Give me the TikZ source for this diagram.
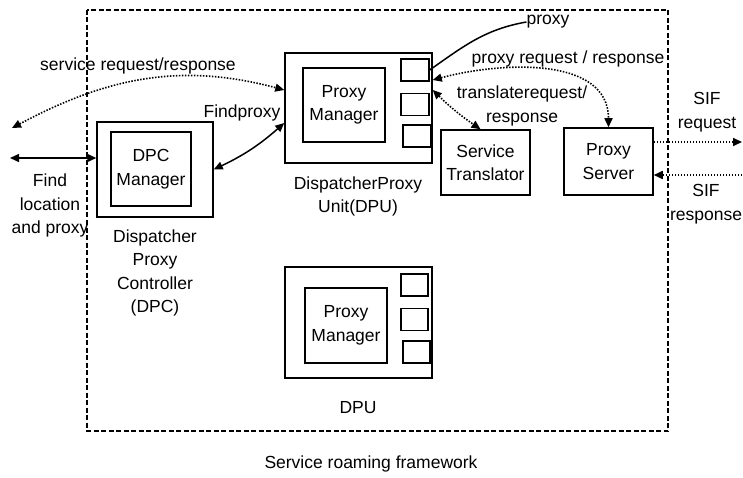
\documentclass[tikz,border=0pt]{standalone}
\usepackage{fontspec}
\setmainfont{Liberation Sans}
\usetikzlibrary{arrows.meta,positioning}

\begin{document}
\begin{tikzpicture}[x=1pt,y=-1pt,
  font=\fontsize{17.5}{23.5}\selectfont,
  outer/.style={draw,line width=1.5pt,inner sep=0pt},
  inner/.style={draw,line width=1.4pt,inner sep=0pt,align=center},
  slot/.style={draw,line width=1.3pt,minimum width=28pt,minimum height=22pt,inner sep=0pt},
  txt/.style={align=center,inner sep=0pt},
  frame/.style={line width=1.1pt,dash pattern=on 5pt off 2.5pt},
  link/.style={line width=1.5pt,{Triangle[length=9pt,width=8pt]}-{Triangle[length=9pt,width=8pt]}},
  dotlink/.style={line width=1.6pt,dash pattern=on 1.5pt off 1.5pt,{Triangle[length=9pt,width=8pt]}-{Triangle[length=9pt,width=8pt]}},
  dotout/.style={line width=1.6pt,dash pattern=on 1.5pt off 1.5pt,-{Triangle[length=9pt,width=8pt]}}]

  \useasboundingbox (0,0) rectangle (743,478);
  \draw[frame] (87,10) rectangle (668,431);

  % controller
  \node[outer,minimum width=116pt,minimum height=95pt] (dpc) at (155,169.5) {};
  \node[inner,minimum width=80pt,minimum height=74pt] (dpcmgr) at (151,169) {DPC\\Manager};
  \node[txt] (dpclbl) at (155,273) {Dispatcher\\Proxy\\Controller\\(DPC)};

  % dispatcher proxy unit
  \node[outer,minimum width=147pt,minimum height=110pt] (dpu1) at (358.5,108) {};
  \node[inner,minimum width=82pt,minimum height=74pt] (pm1) at (344,105) {Proxy\\Manager};
  \node[slot] (s11) at (415,70) {};
  \node[slot] (s12) at (415,104.5) {};
  \node[slot] (s13) at (417,136) {};
  \node[txt] (dpu1lbl) at (358,196.5) {DispatcherProxy\\Unit(DPU)};

  \node[outer,minimum width=89pt,minimum height=65pt,align=center] (transl) at (485.5,162.5) {Service\\Translator};
  \node[outer,minimum width=89pt,minimum height=67pt,align=center] (pserv) at (608.5,161.5) {Proxy\\Server};

  % second unit
  \node[outer,minimum width=147pt,minimum height=111pt] (dpu2) at (358.5,322.5) {};
  \node[inner,minimum width=82pt,minimum height=75pt] (pm2) at (346,325.5) {Proxy\\Manager};
  \node[slot,minimum width=27pt] (s21) at (414.5,285) {};
  \node[slot,minimum width=27pt] (s22) at (414.5,319.5) {};
  \node[slot,minimum width=27pt] (s23) at (416.5,352) {};
  \node[txt] (dpu2lbl) at (358,408) {DPU};

  \node[txt] (title) at (371,464) {Service roaming framework};

  % outside ends
  \coordinate (ext1) at (10,158);
  \coordinate (ext2) at (12,128);
  \coordinate (sifout) at (742,142);
  \coordinate (sifin) at (742,175);

  \draw[link] (ext1) -- ([yshift=11.5pt]dpc.west);
  \node[txt] (findloc) at (50,205.5) {Find\\location\\and proxy};

  \draw[link] (dpc.east) to[bend right=8] ([yshift=-15pt]dpu1.west);
  \node[txt] (findpx) at (242,113) {Findproxy};

  \draw[dotlink] (ext2) to[out=28,in=165] ([yshift=18pt]dpu1.west);
  \node[txt] (srvreq) at (138,66) {service request/response};

  \node[txt] (pxlbl) at (548,22) {proxy};
  \draw[line width=1.5pt] (s11.east) to[out=35,in=190] (pxlbl.west);

  \draw[dotlink] ([yshift=28pt]dpu1.east) to[out=15,in=90] (pserv.north);
  \node[txt] (pxreq) at (568,59) {proxy request / response};

  \draw[dotlink] ([yshift=18pt]dpu1.east) to[bend right=5] ([xshift=-5pt]transl.north);
  \node[txt] (trreq) at (522,106) {translaterequest/\\response};

  \draw[dotout] ([yshift=19.5pt]pserv.east) -- (sifout);
  \node[txt] (sifreq) at (707,112) {SIF\\request};
  \draw[dotout] (sifin) -- ([yshift=-13.5pt]pserv.east);
  \node[txt] (sifres) at (706,204) {SIF\\response};
\end{tikzpicture}
\end{document}
